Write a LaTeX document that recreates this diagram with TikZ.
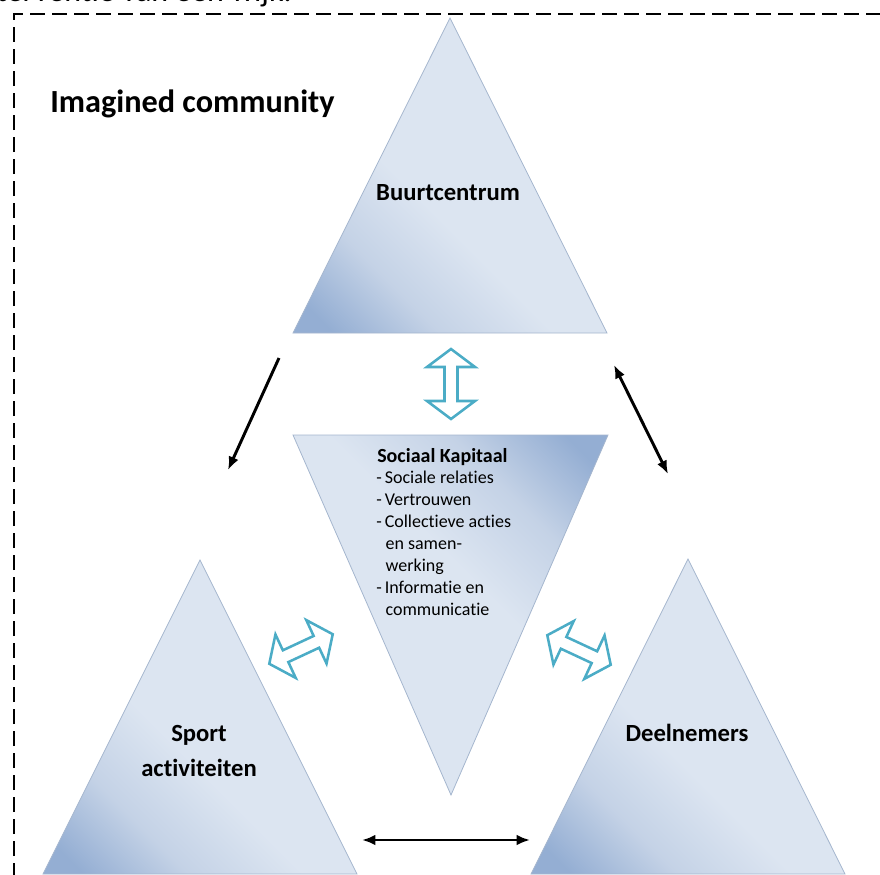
\documentclass[tikz,border=0pt]{standalone}
\usepackage{fontspec}
\setmainfont{Carlito}[Ligatures=NoCommon]
\usepackage{tikz}
\usetikzlibrary{arrows.meta}
\usepackage{xcolor}
\definecolor{trilight}{RGB}{220,229,241}
\definecolor{trimid}{RGB}{196,210,230}
\definecolor{tridark}{RGB}{148,174,211}
\definecolor{triedge}{RGB}{165,182,206}
\definecolor{linkteal}{RGB}{75,172,198}
\pgfdeclareverticalshading{trishade}{100bp}{color(0bp)=(tridark); color(19bp)=(tridark); color(31bp)=(trimid); color(44bp)=(trilight); color(100bp)=(trilight)}
\tikzset{%
	tri/.style={
		draw=triedge,
		line width=0.6pt,
		shade,
		shading=trishade,
		shading angle=-45
	},
	linkarrow/.style={
		draw=linkteal,
		fill=white,
		line width=1.9pt,
		line join=miter
	},
}
% hollow double block arrow: #1 name, #2 centre, #3 angle
\newcommand{\dblarrow}[3]{%
	\coordinate (#1) at #2;
	\draw[linkarrow, shift={#2}, rotate=#3]
	(-35,0) -- (-17,24) -- (-17,6.5) -- (17,6.5) -- (17,24) -- (35,0)
	-- (17,-24) -- (17,-6.5) -- (-17,-6.5) -- (-17,-24) -- cycle;}

\begin{document}
\begin{tikzpicture}[
			x=0.75pt, y=-0.75pt,
			dashframe/.style={line width=1.2pt, dash pattern=on 11pt off 5.5pt},
			link/.style={line width=2.2pt, -{Latex[length=10pt,width=8pt]}},
			both link/.style={line width=2.2pt, {Latex[length=10pt,width=8pt]}-{Latex[length=10pt,width=8pt]}},
			tritext/.style={inner sep=0, font=\bfseries\fontsize{18.5}{26.25}\selectfont},
			listtext/.style={inner sep=0, font=\fontsize{13.5}{16.5}\selectfont}
			]
			\useasboundingbox (0,0) rectangle (880,874);
			\clip (0,0) rectangle (880,874);
			
			% Frame and heading
			\draw[dashframe] (14,900) |- (900,14);
			\node[anchor=base east, inner sep=0, font=\fontsize{24}{28}\selectfont] (intro) at (292,2) {interventie van een wijk.};
			\node[anchor=base west, inner sep=0, font=\bfseries\fontsize{24.2}{30}\selectfont] (title) at (50,112) {Imagined community};
			
			% Triangles
			\path[tri] (450,18) -- (607,333) -- (293,333) -- cycle;
			\path[tri, shading angle=135] (293,435) -- (608,435) -- (451,795) -- cycle;
			\path[tri] (200,560) -- (357,874) -- (43,874) -- cycle;
			\path[tri] (688,559) -- (845,874) -- (531,874) -- cycle;
			
			% Texts
			\node[tritext, anchor=base] (buurt) at (448,200) {Buurtcentrum};
			\node[tritext, anchor=base] (sport) at (199,741) {\begin{tabular}[t]{@{}c@{}}Sport\\activiteiten\end{tabular}};
			\node[tritext, anchor=base] (deel) at (687,741) {Deelnemers};
			\node[anchor=base west, inner sep=0, font=\bfseries\fontsize{15}{18}\selectfont] (kapitaal) at (377,462) {Sociaal Kapitaal};
			\node[listtext, anchor=base west] (kapitaal list) at (376,483) {\begin{tabular}[t]{@{}l@{}}
					-\,Sociale relaties\\
					-\,Vertrouwen\\
					-\,Collectieve acties\\
					\hspace{7pt}en samen-\\
					\hspace{7pt}werking\\
					-\,Informatie en\\
					\hspace{7pt}communicatie
				\end{tabular}};
			
			% Exchanges with the social capital
			\dblarrow{buurt swap}{(451,384)}{90}
			\dblarrow{sport swap}{(301,649)}{25}
			\dblarrow{deel swap}{(579,650)}{-25}
			
			% Links between the corners
			\coordinate (buurt sw) at (279,358);
			\coordinate (sport n) at (228,470);
			\coordinate (buurt se) at (614,365);
			\coordinate (deel n) at (668,474);
			\coordinate (sport e) at (362,840);
			\coordinate (deel w) at (530,840);
			\draw[link] (buurt sw) -- (sport n);
			\draw[both link] (buurt se) -- (deel n);
			\draw[both link] (sport e) -- (deel w);
			
		\end{tikzpicture}
\end{document}
